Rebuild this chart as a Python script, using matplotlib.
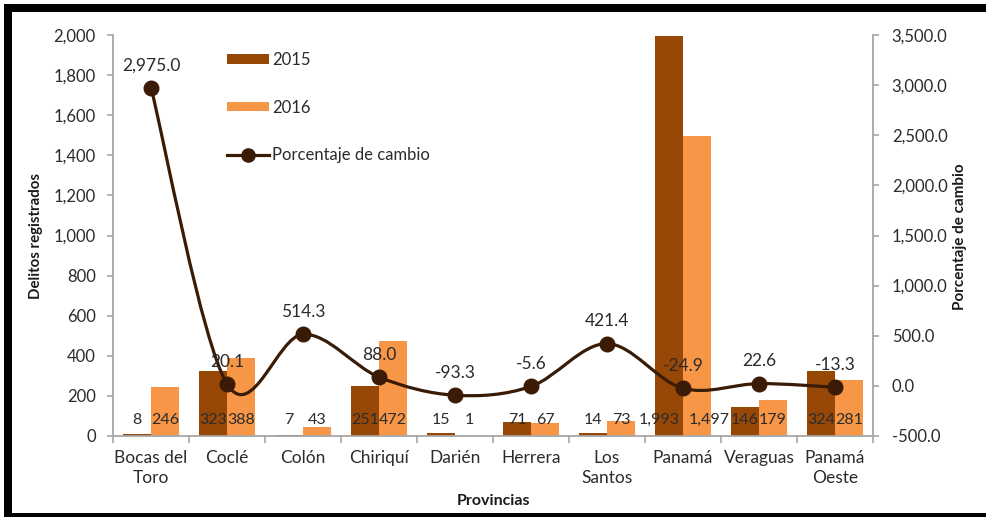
import matplotlib
matplotlib.use('Agg')
import matplotlib.pyplot as plt
import numpy as np
from matplotlib.path import Path
from matplotlib.patches import PathPatch, Patch, Rectangle
from matplotlib.lines import Line2D
from matplotlib.ticker import FuncFormatter, FixedLocator

# ---------------- data ----------------
provincias = ["Bocas del\nToro", "Coclé", "Colón", "Chiriquí", "Darién", "Herrera",
              "Los\nSantos", "Panamá", "Veraguas", "Panamá\nOeste"]
delitos_2015 = [8, 323, 7, 251, 15, 71, 14, 1993, 146, 324]
delitos_2016 = [246, 388, 43, 472, 1, 67, 73, 1497, 179, 281]
pct_cambio = [2975.0, 20.1, 514.3, 88.0, -93.3, -5.6, 421.4, -24.9, 22.6, -13.3]
left_ticks = list(range(0, 2001, 200))
right_ticks = list(range(-500, 3501, 500))

# ---------------- style ----------------
plt.rcParams['font.family'] = ['Lato', 'DejaVu Sans']
TXT = '#2b2b2b'
C15 = '#974806'
C16 = '#F79646'
CLINE = '#3A1C06'
SPINE = '#a6a6a6'

W, H = 987, 517
fig = plt.figure(figsize=(W / 100, H / 100), dpi=100)
fig.patch.set_facecolor('white')

def fx(px):
    return px / W

def fy(py):
    return 1 - py / H

ax = fig.add_axes([fx(113), fy(436), fx(873) - fx(113), fy(35) - fy(436)])
ax2 = ax.twinx()

n = len(provincias)
x = np.arange(n)
bw = 0.37

ax.bar(x - bw / 2, delitos_2015, bw, color=C15, zorder=2)
ax.bar(x + bw / 2, delitos_2016, bw, color=C16, zorder=2)

# bar labels at the base of each bar; wide labels are nudged outward as in the original
for xi, v in zip(x, delitos_2015):
    dx = -7 if v >= 1000 else 0
    ax.annotate(f"{v:,}", (xi - bw / 2, 0), xytext=(dx, 11.5), textcoords='offset points',
                ha='center', va='center', fontsize=11.5, color=TXT, zorder=3)
for xi, v in zip(x, delitos_2016):
    dx = 8.5 if v >= 1000 else 0
    ax.annotate(f"{v:,}", (xi + bw / 2, 0), xytext=(dx, 11.5), textcoords='offset points',
                ha='center', va='center', fontsize=11.5, color=TXT, zorder=3)

ax.set_xlim(-0.5, n - 0.5)
ax.set_ylim(0, 2000)
ax2.set_ylim(-500, 3500)

# smoothed line (Catmull-Rom style cubic Bezier through the data points)
pts = np.column_stack([x, pct_cambio]).astype(float)
verts = [tuple(pts[0])]
codes = [Path.MOVETO]
for i in range(n - 1):
    p0 = pts[i - 1] if i > 0 else pts[i]
    p1 = pts[i]
    p2 = pts[i + 1]
    p3 = pts[i + 2] if i + 2 < n else pts[i + 1]
    c1 = p1 + (p2 - p0) / 6.0
    c2 = p2 - (p3 - p1) / 6.0
    verts += [tuple(c1), tuple(c2), tuple(p2)]
    codes += [Path.CURVE4] * 3
ax2.add_patch(PathPatch(Path(verts, codes), facecolor='none', edgecolor=CLINE, lw=2.3,
                        capstyle='round', joinstyle='round', zorder=4))
ax2.plot(x, pct_cambio, linestyle='none', marker='o', ms=10.5, color=CLINE, zorder=5)
for xi, v in zip(x, pct_cambio):
    ax2.annotate(f"{v:,.1f}", (xi, v), xytext=(0, 16), textcoords='offset points',
                 ha='center', va='center', fontsize=12.5, color=TXT, zorder=6)

# axes styling
for a in (ax, ax2):
    a.spines['top'].set_visible(False)
    a.set_facecolor('none')
ax.patch.set_visible(False)
ax.spines['left'].set_color(SPINE)
ax.spines['bottom'].set_color(SPINE)
ax.spines['right'].set_visible(False)
ax2.spines['left'].set_visible(False)
ax2.spines['bottom'].set_visible(False)
ax2.spines['right'].set_color(SPINE)
for s in (ax.spines['left'], ax.spines['bottom'], ax2.spines['right']):
    s.set_linewidth(1.3)

ax.yaxis.set_major_locator(FixedLocator(left_ticks))
ax.yaxis.set_major_formatter(FuncFormatter(lambda v, p: f"{v:,.0f}"))
ax.tick_params(axis='y', direction='out', length=4.5, width=1.2, color=SPINE, pad=8,
               labelsize=12, labelcolor=TXT)

ax2.yaxis.set_major_locator(FixedLocator(right_ticks))
ax2.yaxis.set_major_formatter(FuncFormatter(lambda v, p: f"{v:,.1f}"))
ax2.tick_params(axis='y', direction='out', length=4.5, width=1.2, color=SPINE, pad=9,
                labelsize=12, labelcolor=TXT)

ax.set_xticks(x)
ax.set_xticklabels(provincias, fontsize=12.5, color=TXT, linespacing=1.3)
ax.set_xticks(np.arange(-0.5, n, 1.0), minor=True)
ax.tick_params(axis='x', which='major', length=0, pad=10)
ax.tick_params(axis='x', which='minor', direction='out', length=5, width=1.2, color=SPINE)

# axis titles
fig.text(fx(36), fy(236), "Delitos registrados", rotation=90, ha='center', va='center',
         fontsize=10.8, fontweight='bold', color='#1a1a1a')
fig.text(fx(960), fy(237), "Porcentaje de cambio", rotation=90, ha='center', va='center',
         fontsize=11, fontweight='bold', color='#1a1a1a')
fig.text(fx(494), fy(501), "Provincias", ha='center', va='center',
         fontsize=11.5, fontweight='bold', color='#1a1a1a')

# legend
handles = [Patch(facecolor=C15, edgecolor='none'),
           Patch(facecolor=C16, edgecolor='none'),
           Line2D([0], [0], color=CLINE, lw=2.3, marker='o', ms=9.5)]
labels = ["2015", "2016", "Porcentaje de cambio"]
leg = fig.legend(handles, labels, loc='upper left', bbox_to_anchor=(fx(227), fy(52)),
                 frameon=False, fontsize=12, labelspacing=1.9, handlelength=2.55,
                 handleheight=0.5, handletextpad=0.15, borderpad=0, borderaxespad=0)
for t in leg.get_texts():
    t.set_color(TXT)

# black frame (screenshot border)
for (x0, y0, x1, y1) in [(4, 4, 987, 12), (4, 4, 12, 517), (4, 513, 987, 517)]:
    fig.add_artist(Rectangle((fx(x0), fy(y1)), fx(x1) - fx(x0), fy(y0) - fy(y1),
                             transform=fig.transFigure, facecolor='black', edgecolor='none',
                             zorder=10))

fig.savefig('out.png', dpi=100)
